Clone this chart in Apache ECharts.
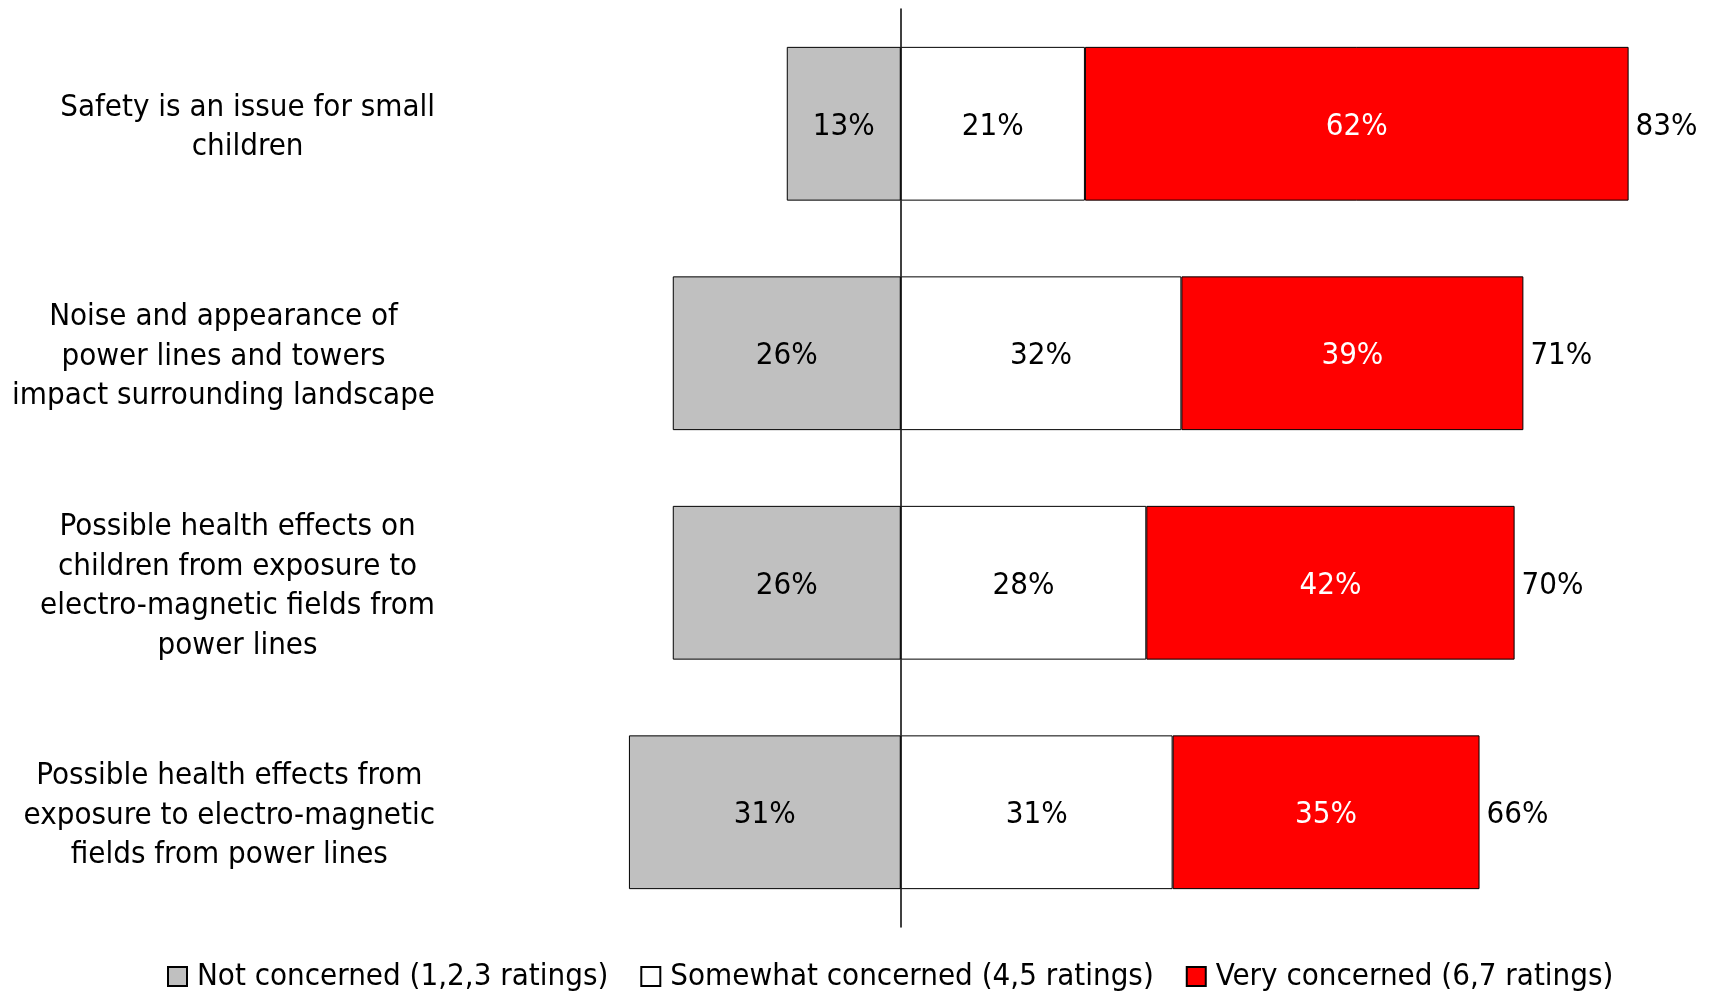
<!DOCTYPE html>
<html><head><meta charset="utf-8">
<script src="https://cdn.jsdelivr.net/npm/echarts@6/dist/echarts.min.js"></script>
<style>html,body{margin:0;padding:0;background:#fff}#c{width:1714px;height:992px}</style>
</head><body><div id="c"></div>
<script>
var categories = [
  "Safety is an issue for small\nchildren",
  "Noise and appearance of\npower lines and towers\nimpact surrounding landscape",
  "Possible health effects on\nchildren from exposure to\nelectro-magnetic fields from\npower lines",
  "Possible health effects from\nexposure to electro-magnetic\nfields from power lines"
];
var notConcerned = [13, 26, 26, 31];
var somewhatConcerned = [21, 32, 28, 31];
var veryConcerned = [62, 39, 42, 35];
var totals = [83, 71, 70, 66];
var seriesNames = ["Not concerned (1,2,3 ratings)", "Somewhat concerned (4,5 ratings)", "Very concerned (6,7 ratings)"];

var FONT = '"DejaVu Sans Condensed", "DejaVu Sans", sans-serif';
var FS = 31;
var chart = echarts.init(document.getElementById('c'), null, {renderer: 'canvas'});
var lbl = {show: true, position: 'inside', offset: [0, 3], fontFamily: FONT, fontSize: FS, color: '#000'};
chart.setOption({
  animation: false,
  textStyle: {fontFamily: FONT},
  grid: {left: 550, right: 24, top: 9, bottom: 65, containLabel: false, outerBoundsMode: 'none'},
  xAxis: {type: 'value', min: -40, max: 90, show: false},
  yAxis: {
    type: 'category', data: categories, inverse: true,
    axisLine: {show: true, onZero: true, lineStyle: {color: '#000', width: 1.5}},
    axisTick: {show: false},
    axisLabel: {
      margin: 115, align: 'right', color: '#000', fontFamily: FONT, fontSize: FS, lineHeight: 39.5,
      padding: [7, 0, 0, 0],
      formatter: function (v) { return v.split('\n').map(function (l) { return '{c|' + l + '}'; }).join('\n'); },
      rich: {c: {align: 'center', fontFamily: FONT, fontSize: FS, lineHeight: 39.5, color: '#000'}}
    }
  },
  legend: {
    left: 162, top: 956, itemWidth: 19, itemHeight: 19, itemGap: 32, icon: 'rect',
    textStyle: {fontFamily: FONT, fontSize: FS, color: '#000', padding: [0, 0, 0, 5]},
    data: seriesNames
  },
  series: [
    {name: seriesNames[0], type: 'bar', stack: 's', barCategoryGap: '33%',
     data: notConcerned.map(function (v) { return -v; }),
     itemStyle: {color: '#C0C0C0', borderColor: '#000', borderWidth: 1},
     label: Object.assign({}, lbl, {formatter: function (p) { return Math.abs(p.value) + '%'; }})},
    {name: seriesNames[1], type: 'bar', stack: 's', data: somewhatConcerned,
     itemStyle: {color: '#FFFFFF', borderColor: '#000', borderWidth: 1},
     label: Object.assign({}, lbl, {formatter: '{c}%'})},
    {name: seriesNames[2], type: 'bar', stack: 's', data: veryConcerned,
     itemStyle: {color: '#FF0000', borderColor: '#000', borderWidth: 1},
     label: Object.assign({}, lbl, {color: '#fff', formatter: '{c}%'})},
    {name: 'total', type: 'bar', stack: 's', data: totals.map(function () { return 0; }),
     itemStyle: {color: 'transparent'}, silent: true,
     label: {show: true, position: 'right', distance: 7, offset: [0, 3], fontFamily: FONT, fontSize: FS, color: '#000',
       formatter: function (p) { return totals[p.dataIndex] + '%'; }}}
  ]
});
</script></body></html>
